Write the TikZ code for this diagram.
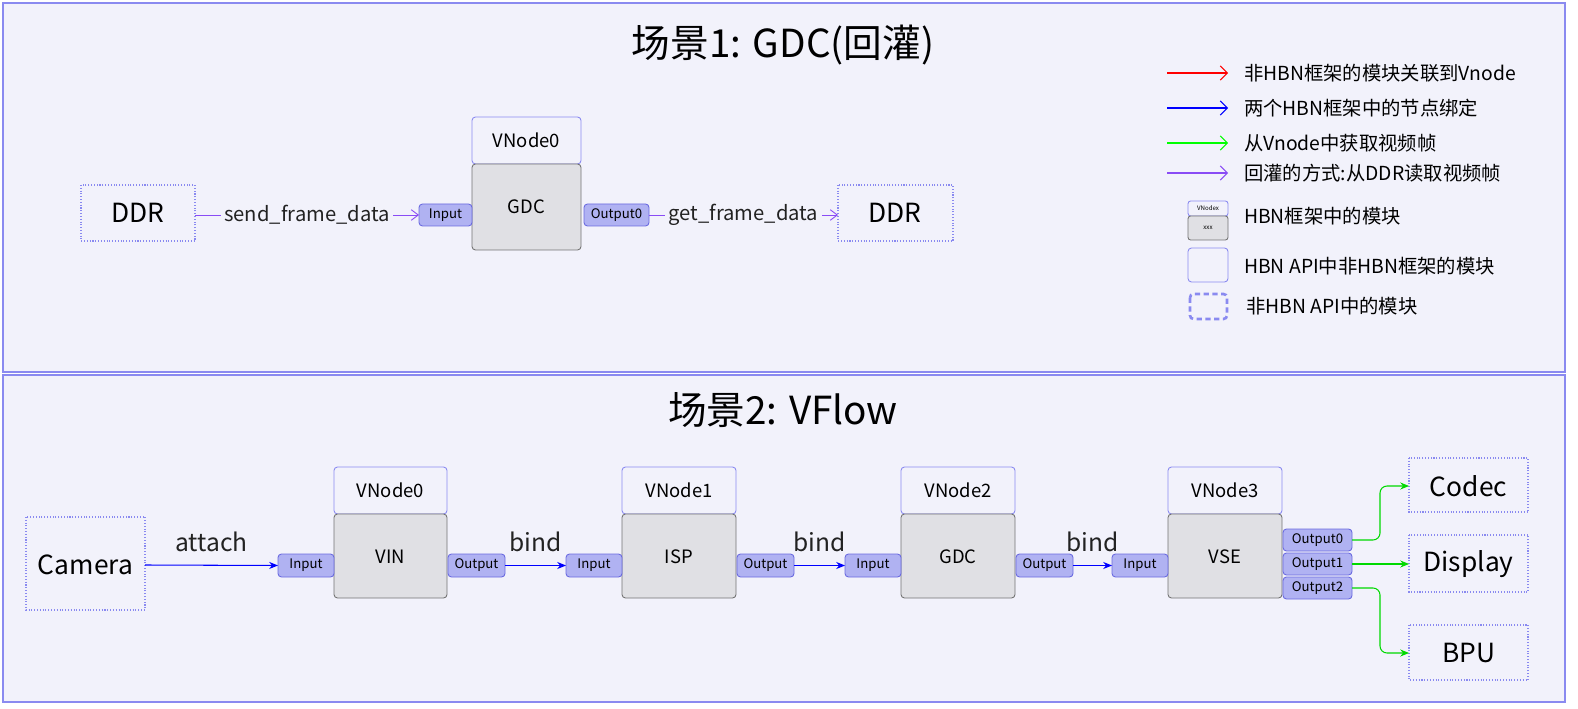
\documentclass[tikz,border=0pt]{standalone}
\usepackage{fontspec}
\setmainfont{Noto Sans CJK SC}
\usetikzlibrary{arrows.meta}
\definecolor{bg}{HTML}{F2F2FB}
\definecolor{bd}{HTML}{8A8AF0}
\definecolor{port}{HTML}{B0B2F2}
\definecolor{portbd}{HTML}{6A6AE0}
\definecolor{body}{HTML}{E0E0E4}
\definecolor{purp}{HTML}{8A4CF5}
\definecolor{txt}{HTML}{222222}
\begin{document}
\begin{tikzpicture}[x=0.02cm,y=-0.02cm,font=\color{txt},
 panel/.style={draw=bd,fill=bg,line width=0.6pt},
 dotbox/.style={draw=bd,densely dotted,line width=0.6pt,inner sep=0},
 hdr/.style={draw=bd,fill=bg,rounded corners=2pt,line width=0.5pt},
 bdy/.style={draw=gray!90!black,fill=body,rounded corners=2pt,line width=0.5pt},
 port/.style={draw=portbd,fill=port,rounded corners=2pt,line width=0.5pt},
 pf/.style={font=\fontsize{7.5}{8}\selectfont},
 big/.style={font=\fontsize{15}{16}\selectfont},
 mid/.style={font=\fontsize{10.5}{12}\selectfont},
 el/.style={text=txt,font=\fontsize{14}{15}\selectfont},
 pa/.style={purp,line width=0.5pt,-{Straight Barb[length=4pt,width=6pt]}},
 ba/.style={blue,line width=0.6pt,-{Stealth[length=5pt,width=4pt]}},
 ga/.style={green!85!black,line width=0.6pt,rounded corners=4pt,-{Stealth[length=5pt,width=4pt]}},
 leg/.style={anchor=west,font=\fontsize{11}{13}\selectfont}]
\useasboundingbox (0,0) rectangle (1578,709);
\draw[panel] (3,3) rectangle (1565,372);
\draw[panel] (3,375) rectangle (1565,702);
\node[font=\fontsize{22}{24}\selectfont] (t1) at (783,45) {场景1: GDC(回灌)};
\node[font=\fontsize{22}{24}\selectfont] (t2) at (783,410) {场景2: VFlow};
% scene 1
\draw[dotbox] (81,185) rectangle (195,241); \node[big] (ddrA) at (138,213) {DDR};
\coordinate (ddrAe) at (195,215);
\draw[hdr] (472,117) rectangle (581,164); \node[mid] (v0h) at (526.5,140) {VNode0};
\draw[bdy] (472,164) rectangle (581,250); \node[mid] (g0) at (526.5,207) {GDC};
\draw[port] (419,204) rectangle (472,226); \node[pf] (in0) at (445.5,215) {Input};
\draw[port] (584,204) rectangle (649,226); \node[pf] (out0) at (616.5,215) {Output0};
\draw[dotbox] (838,185) rectangle (953,241); \node[big] (ddrB) at (895,213) {DDR};
\coordinate (inL) at (419,215); \coordinate (outR) at (649,215); \coordinate (ddrBw) at (838,215);
\draw[pa] (ddrAe) -- node[fill=bg,text=txt,inner sep=2pt,font=\fontsize{11.5}{13}\selectfont]{send\_frame\_data} (inL);
\draw[pa] (outR) -- node[fill=bg,text=txt,inner sep=2pt,font=\fontsize{11.5}{13}\selectfont]{get\_frame\_data} (ddrBw);
% scene 2
\draw[dotbox] (26,517) rectangle (145,610); \node[big] (cam) at (85.5,565) {Camera};
\coordinate (camE) at (145,565);
\foreach \n/\xl/\xr/\name in {0/334/447/VIN,1/622/736/ISP,2/901/1015/GDC,3/1168/1282/VSE}{
 \draw[hdr] (\xl,467) rectangle (\xr,514);
 \node[mid] at ({(\xl+\xr)/2},490) {VNode\n};
 \draw[bdy] (\xl,514) rectangle (\xr,598);
 \node[mid] at ({(\xl+\xr)/2},557) {\name};
 \draw[port] (\xl-56,554) rectangle (\xl,577);
 \node[pf] (in\n) at (\xl-28,565.5) {Input};
 \coordinate (inw\n) at (\xl-56,565.5);
}
\foreach \n/\xr in {0/447,1/736,2/1015}{
 \draw[port] (\xr+1,554) rectangle (\xr+58,577);
 \node[pf] (o\n) at (\xr+29.5,565.5) {Output};
 \coordinate (ow\n) at (\xr+58,565.5);
}
\draw[ba] (camE) -- node[above=4pt,el]{attach} (inw0);
\draw[ba] (ow0) -- node[above=4pt,el]{bind} (inw1);
\draw[ba] (ow1) -- node[above=4pt,el]{bind} (inw2);
\draw[ba] (ow2) -- node[above=4pt,el]{bind} (inw3);
\foreach \k/\y in {0/529,1/553,2/577}{
 \draw[port] (1283,\y) rectangle (1352,\y+22);
 \node[pf] at (1317.5,\y+11) {Output\k};
 \coordinate (vo\k) at (1352,\y+11);
}
\draw[dotbox] (1409,458) rectangle (1528,512); \node[big] (codec) at (1468.5,486) {Codec};
\draw[dotbox] (1409,535) rectangle (1528,592); \node[big] (disp) at (1468.5,564) {Display};
\draw[dotbox] (1409,625) rectangle (1528,680); \node[big] (bpu) at (1468.5,653) {BPU};
\draw[ga] (vo0) -- (1380,540) -- (1380,486) -- (1409,486);
\draw[ga] (vo1) -- (1409,564);
\draw[ga] (vo2) -- (1380,588) -- (1380,653) -- (1409,653);
% legend
\foreach \y/\c/\t in {73/red/非HBN框架的模块关联到Vnode,108/blue/两个HBN框架中的节点绑定,143/green/从Vnode中获取视频帧,173/purp/回灌的方式:从DDR读取视频帧}{
 \draw[\c,line width=0.6pt,-{Straight Barb[length=4pt,width=8pt]}] (1167,\y) -- (1228,\y);
 \node[leg] at (1238,\y) {\t};
}
\draw[hdr,rounded corners=1.5pt] (1188,201) rectangle (1228,216);
\node[font=\fontsize{3.5}{4}\selectfont] at (1208,208.5) {VNodex};
\draw[bdy,rounded corners=1.5pt] (1188,216) rectangle (1228,240);
\node[font=\fontsize{3.5}{4}\selectfont] at (1208,228) {xxx};
\node[leg] at (1238,216) {HBN框架中的模块};
\draw[hdr,rounded corners=2pt] (1188,248) rectangle (1228,282);
\node[leg] at (1238,266) {HBN API中非HBN框架的模块};
\draw[bd,line width=1.5pt,rounded corners=2pt,dash pattern=on 3pt off 2pt] (1190,294) rectangle (1227,319);
\node[leg] at (1240,306) {非HBN API中的模块};
\end{tikzpicture}
\end{document}
